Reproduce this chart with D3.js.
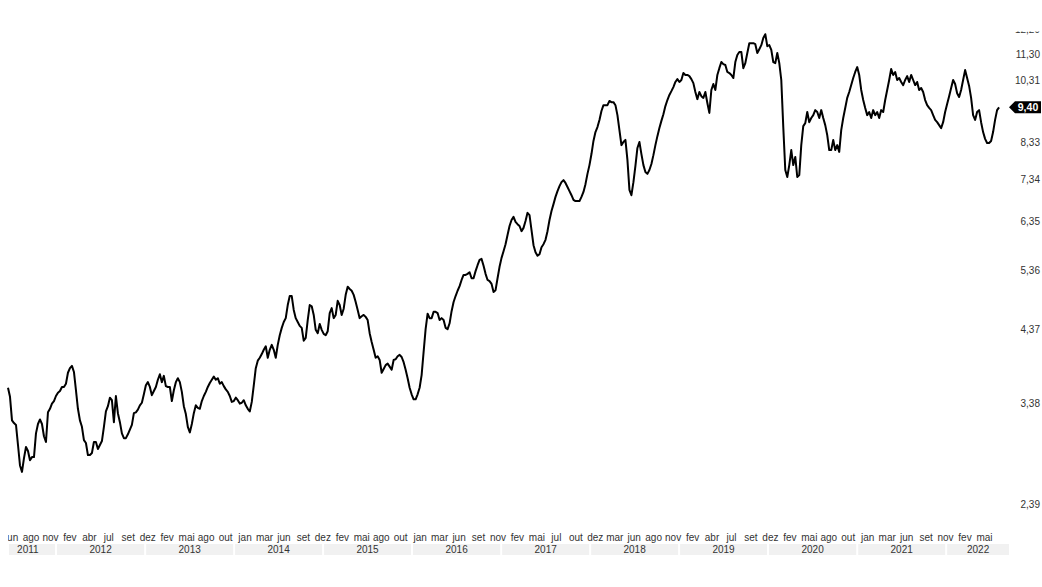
<!DOCTYPE html>
<html>
<head>
<meta charset="utf-8">
<script src="https://cdn.jsdelivr.net/npm/d3@7"></script>
<style>
  body { margin: 0; background: #fff; }
  text { font-family: "Liberation Sans", Arial, sans-serif; }
</style>
</head>
<body>
<svg id="chart" width="1042" height="587"></svg>
<script>
// observations, one every ~8.2 days starting mid June 2011
const obsStart = '2011-06-18'
const obsStepDays = 8.2
const values = [
  3.57,3.46,3.19,3.16,3.14,2.93,2.73,2.67,2.80,2.91,
  2.87,2.78,2.81,2.81,3.05,3.15,3.20,3.15,3.02,2.96,
  3.28,3.32,3.38,3.41,3.47,3.51,3.53,3.58,3.58,3.62,
  3.76,3.82,3.85,3.77,3.54,3.32,3.19,3.12,2.98,2.95,
  2.83,2.83,2.85,2.96,2.96,2.89,2.93,2.97,3.12,3.29,
  3.35,3.45,3.42,3.17,3.47,3.27,3.17,3.05,3.00,3.00,
  3.04,3.09,3.14,3.27,3.28,3.31,3.36,3.39,3.49,3.60,
  3.64,3.58,3.48,3.53,3.58,3.67,3.74,3.64,3.72,3.59,
  3.58,3.58,3.41,3.54,3.64,3.69,3.64,3.52,3.35,3.26,
  3.12,3.06,3.15,3.27,3.36,3.33,3.32,
  3.41,3.47,3.52,3.58,3.63,3.67,3.71,3.67,3.69,3.62,
  3.64,3.59,3.55,3.52,3.47,3.40,3.41,3.45,3.42,3.38,
  3.39,3.42,3.36,3.32,3.29,3.40,3.60,3.82,3.92,3.96,
  4.01,4.07,4.12,3.96,4.07,4.14,4.07,3.96,4.14,4.28,
  4.39,4.48,4.54,4.75,4.90,4.90,4.67,4.54,4.48,4.42,
  4.39,4.20,4.24,4.51,4.75,4.73,4.59,4.36,4.31,4.45,
  4.36,4.30,4.28,4.34,4.62,4.70,4.54,4.59,4.82,4.75,
  4.59,4.69,4.92,5.06,5.02,4.99,4.92,4.80,4.67,4.54,
  4.57,4.59,4.56,4.51,4.31,4.18,4.07,3.96,3.98,3.93,
  3.76,3.81,3.86,3.88,3.84,3.80,3.93,3.94,3.98,4.00,
  3.97,3.90,3.80,3.69,3.57,3.49,3.43,3.43,3.49,3.57,
  3.73,4.04,4.37,4.61,4.54,4.54,4.64,4.64,4.62,4.51,
  4.54,4.51,4.39,4.37,4.46,4.65,4.80,4.90,4.99,5.07,
  5.18,5.27,5.27,5.29,5.32,5.21,5.21,5.34,5.45,5.55,
  5.57,5.44,5.29,5.18,5.16,5.11,4.97,5.00,5.21,5.42,
  5.59,5.72,5.86,6.05,6.24,6.37,6.44,6.33,6.28,6.24,
  6.13,6.20,6.35,6.53,6.48,6.15,5.84,5.70,5.63,5.66,
  5.80,5.86,5.95,6.13,6.37,6.57,6.73,6.90,7.04,7.16,
  7.26,7.31,7.24,7.14,7.04,6.94,6.83,6.80,6.80,6.80,
  6.90,7.02,7.21,7.47,7.70,8.00,8.37,8.63,8.78,9.00,
  9.28,9.47,9.47,9.47,9.61,9.57,9.57,9.47,9.15,8.69,
  8.25,8.34,8.40,7.84,7.07,6.94,7.26,7.68,8.17,8.34,
  8.00,7.70,7.52,7.47,7.57,7.73,7.97,8.25,8.51,8.75,
  8.97,9.18,9.44,9.64,9.81,9.94,10.08,10.26,10.36,10.26,
  10.33,10.58,10.51,10.51,10.47,10.36,10.22,9.91,9.67,9.91,
  9.77,9.71,9.91,9.54,9.22,9.98,10.19,9.98,10.51,10.76,
  10.99,10.91,10.88,10.62,10.58,10.51,10.40,10.99,11.26,11.38,
  11.38,10.76,10.95,11.34,11.73,11.73,11.73,11.69,11.34,11.49,
  11.65,11.94,12.10,11.61,11.65,11.46,10.99,10.95,11.34,10.95,
  10.33,8.78,7.57,7.39,7.70,8.11,7.70,7.92,7.39,7.44,
  8.25,8.81,8.90,9.25,8.93,9.06,9.15,9.31,9.25,9.06,
  9.31,9.06,8.84,8.54,8.11,8.11,8.40,8.11,8.25,8.06,
  8.69,9.06,9.38,9.71,9.91,10.15,10.40,10.62,10.80,10.51,
  9.98,9.64,9.38,9.15,9.25,9.06,9.31,9.15,9.25,9.06,
  9.31,9.25,9.64,9.98,10.33,10.73,10.51,10.62,10.33,10.40,
  10.26,10.15,10.33,10.47,10.26,10.51,10.33,10.15,10.26,9.98,
  10.05,9.91,9.64,9.47,9.38,9.31,9.15,9.00,8.93,8.84,
  8.75,8.93,9.25,9.51,9.77,10.05,10.33,10.19,9.87,9.74,
  9.98,10.33,10.69,10.40,10.12,9.71,9.15,9.00,9.25,9.31,
  8.93,8.63,8.43,8.31,8.31,8.37,8.63,9.00,9.31,9.40
]

const yTicks = [2.39, 3.38, 4.37, 5.36, 6.35, 7.34, 8.33, 9.32, 10.31, 11.30, 12.29]
const lastValue = 9.40

const years = [2011, 2012, 2013, 2014, 2015, 2016, 2017, 2018, 2019, 2020, 2021, 2022]
const monthTicks = [
  ['2011-06', 'jun'], ['2011-08', 'ago'], ['2011-11', 'nov'],
  ['2012-02', 'fev'], ['2012-04', 'abr'], ['2012-07', 'jul'], ['2012-09', 'set'], ['2012-12', 'dez'],
  ['2013-02', 'fev'], ['2013-05', 'mai'], ['2013-08', 'ago'], ['2013-10', 'out'],
  ['2014-01', 'jan'], ['2014-03', 'mar'], ['2014-06', 'jun'], ['2014-09', 'set'], ['2014-12', 'dez'],
  ['2015-02', 'fev'], ['2015-05', 'mai'], ['2015-08', 'ago'], ['2015-10', 'out'],
  ['2016-01', 'jan'], ['2016-03', 'mar'], ['2016-06', 'jun'], ['2016-09', 'set'], ['2016-11', 'nov'],
  ['2017-02', 'fev'], ['2017-05', 'mai'], ['2017-07', 'jul'], ['2017-10', 'out'], ['2017-12', 'dez'],
  ['2018-03', 'mar'], ['2018-06', 'jun'], ['2018-08', 'ago'], ['2018-11', 'nov'],
  ['2019-02', 'fev'], ['2019-04', 'abr'], ['2019-07', 'jul'], ['2019-09', 'set'], ['2019-12', 'dez'],
  ['2020-02', 'fev'], ['2020-05', 'mai'], ['2020-08', 'ago'], ['2020-10', 'out'],
  ['2021-01', 'jan'], ['2021-03', 'mar'], ['2021-06', 'jun'], ['2021-09', 'set'], ['2021-11', 'nov'],
  ['2022-02', 'fev'], ['2022-05', 'mai']
]

const parseDay = d3.timeParse('%Y-%m-%d')
const parseMonth = d3.timeParse('%Y-%m')
const start = parseDay(obsStart)
const data = values.map((v, i) => ({
  date: new Date(start.getTime() + i * obsStepDays * 864e5),
  value: v
}))

const svg = d3.select('#chart')
const left = 8, right = 1010

const x = d3.scaleTime()
  .domain([parseDay('2011-06-18'), parseDay('2022-09-20')])
  .range([left, right])

const y = d3.scaleLog()
  .domain([2.39, 11.30])
  .range([504, 54])

const fmt = v => v.toFixed(2).replace('.', ',')

// clip for the bottom axis (labels cut at the left edge)
svg.append('clipPath').attr('id', 'xclip')
  .append('rect').attr('x', left).attr('y', 520).attr('width', right - left).attr('height', 60)
// clip for the right axis (top label cut)
svg.append('clipPath').attr('id', 'yclip')
  .append('rect').attr('x', 1000).attr('y', 31.5).attr('width', 42).attr('height', 540)

// year bands; the first one is labelled as if the axis began in mid May
const axisStart = parseDay('2011-05-15')
const xAxisG = svg.append('g').attr('clip-path', 'url(#xclip)')
years.forEach(yr => {
  const x0 = Math.max(x(new Date(yr, 0, 1)), left)
  const x1 = Math.min(x(new Date(yr + 1, 0, 1)), right)
  const lx0 = x(d3.max([new Date(yr, 0, 1), axisStart]))
  xAxisG.append('rect')
    .attr('x', x0 + 1).attr('y', 544)
    .attr('width', x1 - x0 - 2).attr('height', 11)
    .attr('fill', '#f1f1f1')
  xAxisG.append('text')
    .attr('x', (lx0 + x1) / 2).attr('y', 553)
    .attr('text-anchor', 'middle')
    .attr('font-size', 10)
    .attr('fill', '#333')
    .text(yr)
})

// month labels: evenly spread between the first and the last month position
const mLabels = xAxisG.selectAll('.mlabel')
  .data(monthTicks)
  .enter()
  .append('text')
  .attr('class', 'mlabel')
  .attr('y', 541)
  .attr('text-anchor', 'middle')
  .attr('font-size', 10)
  .attr('fill', '#333')
  .text(d => d[1])

const widths = mLabels.nodes().map(n => n.getComputedTextLength())
const n = monthTicks.length
const c0 = x(parseMonth(monthTicks[0][0])) + 1 + widths[0] / 2
const cN = x(parseMonth(monthTicks[n - 1][0])) + 1 + widths[n - 1] / 2
mLabels.attr('x', (d, i) => c0 + i * (cN - c0) / (n - 1))

// right axis
const yAxis = d3.axisRight(y)
  .tickValues(yTicks.filter(t => Math.abs(y(t) - y(lastValue)) > 12))
  .tickSize(0)
  .tickFormat(fmt)

svg.append('g')
  .attr('clip-path', 'url(#yclip)')
  .append('g')
  .attr('transform', 'translate(1040,0)')
  .call(yAxis)
  .call(g => g.select('.domain').remove())
  .call(g => g.selectAll('text')
    .attr('x', 0)
    .attr('text-anchor', 'end')
    .attr('font-size', 10)
    .attr('font-family', '"Liberation Sans", Arial, sans-serif')
    .attr('fill', '#333'))

// the line
const line = d3.line()
  .x(d => x(d.date))
  .y(d => y(d.value))

svg.append('path')
  .datum(data)
  .attr('d', line)
  .attr('fill', 'none')
  .attr('stroke', '#000')
  .attr('stroke-width', 2)
  .attr('stroke-linejoin', 'round')

// last value tag
const ty = y(lastValue)
svg.append('path')
  .attr('d', `M1009,${ty} L1015,${ty - 6} L1041,${ty - 6} L1041,${ty + 6} L1015,${ty + 6} Z`)
  .attr('fill', '#000')
svg.append('text')
  .attr('x', 1028).attr('y', ty + 3.8)
  .attr('text-anchor', 'middle')
  .attr('font-size', 10.5)
  .attr('font-weight', 'bold')
  .attr('fill', '#fff')
  .text(fmt(lastValue))
</script>
</body>
</html>
